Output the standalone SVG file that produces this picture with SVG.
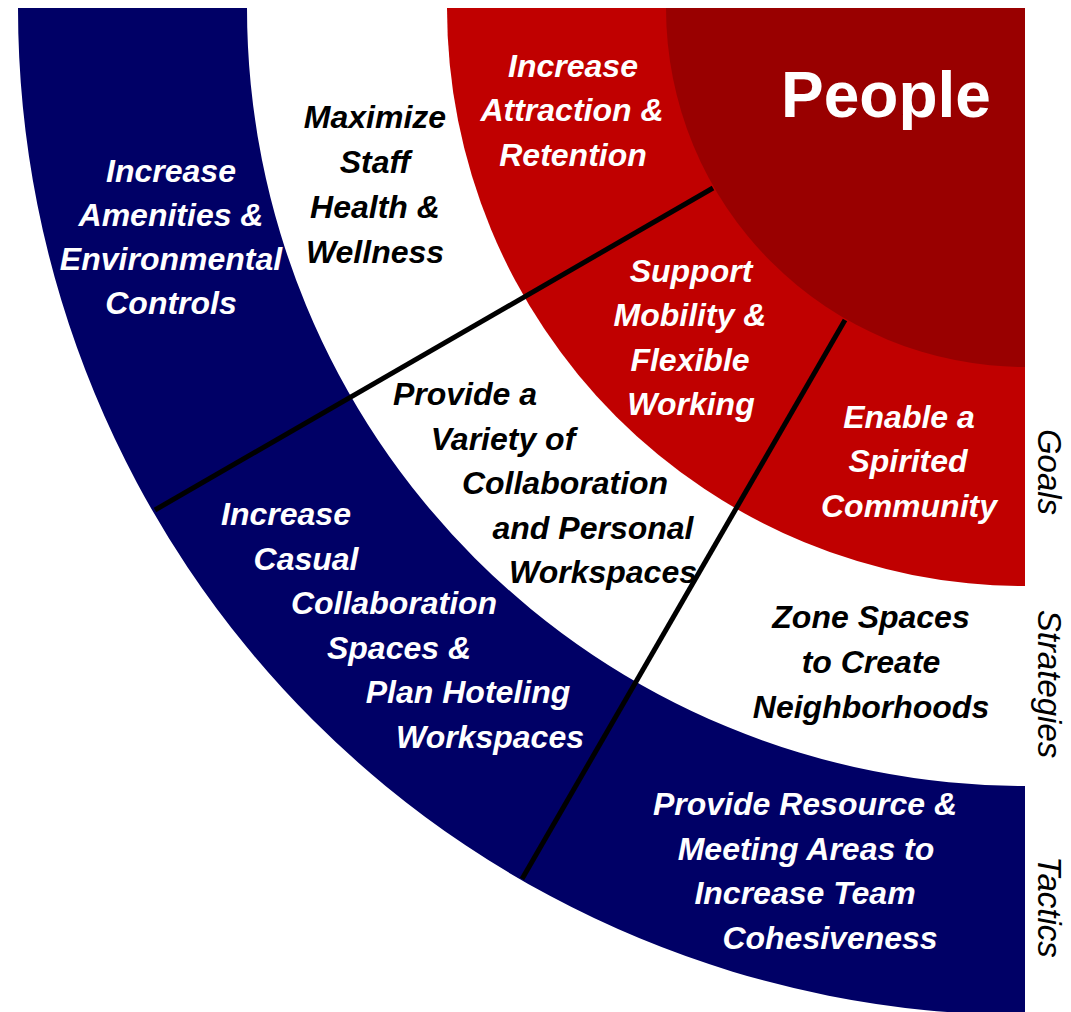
<svg xmlns="http://www.w3.org/2000/svg" width="1071" height="1012" viewBox="0 0 1071 1012">
<style>
.t{font-family:"Liberation Sans",Arial,sans-serif;font-weight:bold;font-style:italic;font-size:32px;text-anchor:middle}
.w{fill:#ffffff}
.k{fill:#000000}
.side{font-family:"Liberation Sans",Arial,sans-serif;font-style:italic;font-size:33px;fill:#000000;text-anchor:middle}
.people{font-family:"Liberation Sans",Arial,sans-serif;font-weight:bold;font-size:64px;fill:#ffffff;text-anchor:middle}
</style>
<rect width="1071" height="1012" fill="#ffffff"/>
<g id="tactics-ring">
<path d="M 18,8 A 1007 1007 0 0 0 1025,1015 L 1025,786 A 778 778 0 0 1 247,8 Z" fill="#000066"/>
</g>
<g id="goals-ring">
<path d="M 447,8 A 578 578 0 0 0 1025,586 L 1025,8 Z" fill="#C00000"/>
</g>
<g id="people-core">
<path d="M 666,8 A 359 359 0 0 0 1025,367 L 1025,8 Z" fill="#990000"/>
<text class="people" x="886" y="117">People</text>
</g>
<g id="connectors" stroke="#000000" stroke-width="5" stroke-linecap="butt">
<line x1="713" y1="188" x2="155" y2="510"/>
<line x1="845" y1="320" x2="522" y2="879"/>
</g>
<g id="tactic-amenities">
<text class="t w" x="171" y="182">Increase</text>
<text class="t w" x="171" y="226">Amenities &amp;</text>
<text class="t w" x="171" y="270">Environmental</text>
<text class="t w" x="171" y="314">Controls</text>
</g>
<g id="strategy-wellness">
<text class="t k" x="375" y="128">Maximize</text>
<text class="t k" x="375" y="173">Staff</text>
<text class="t k" x="375" y="218">Health &amp;</text>
<text class="t k" x="375" y="263">Wellness</text>
</g>
<g id="goal-attraction">
<text class="t w" x="573" y="77">Increase</text>
<text class="t w" x="572" y="121">Attraction &amp;</text>
<text class="t w" x="573" y="166">Retention</text>
</g>
<g id="goal-mobility">
<text class="t w" x="691" y="282">Support</text>
<text class="t w" x="690" y="326">Mobility &amp;</text>
<text class="t w" x="690" y="371">Flexible</text>
<text class="t w" x="691" y="415">Working</text>
</g>
<g id="goal-community">
<text class="t w" x="909" y="428">Enable a</text>
<text class="t w" x="908" y="472">Spirited</text>
<text class="t w" x="909" y="517">Community</text>
</g>
<g id="strategy-variety">
<text class="t k" x="465" y="405">Provide a</text>
<text class="t k" x="503" y="450">Variety of</text>
<text class="t k" x="565" y="494">Collaboration</text>
<text class="t k" x="593" y="539">and Personal</text>
<text class="t k" x="603" y="583">Workspaces</text>
</g>
<g id="strategy-zone">
<text class="t k" x="871" y="628">Zone Spaces</text>
<text class="t k" x="871" y="673">to Create</text>
<text class="t k" x="871" y="718">Neighborhoods</text>
</g>
<g id="tactic-casual">
<text class="t w" x="286" y="525">Increase</text>
<text class="t w" x="306" y="570">Casual</text>
<text class="t w" x="394" y="614">Collaboration</text>
<text class="t w" x="399" y="659">Spaces &amp;</text>
<text class="t w" x="468" y="703">Plan Hoteling</text>
<text class="t w" x="490" y="748">Workspaces</text>
</g>
<g id="tactic-resource">
<text class="t w" x="805" y="815">Provide Resource &amp;</text>
<text class="t w" x="806" y="860">Meeting Areas to</text>
<text class="t w" x="805" y="904">Increase Team</text>
<text class="t w" x="830" y="949">Cohesiveness</text>
</g>
<g id="labels">
<text class="side" transform="translate(1038,472) rotate(90)">Goals</text>
<text class="side" transform="translate(1038,684) rotate(90)">Strategies</text>
<text class="side" transform="translate(1038,907) rotate(90)">Tactics</text>
</g>
</svg>
